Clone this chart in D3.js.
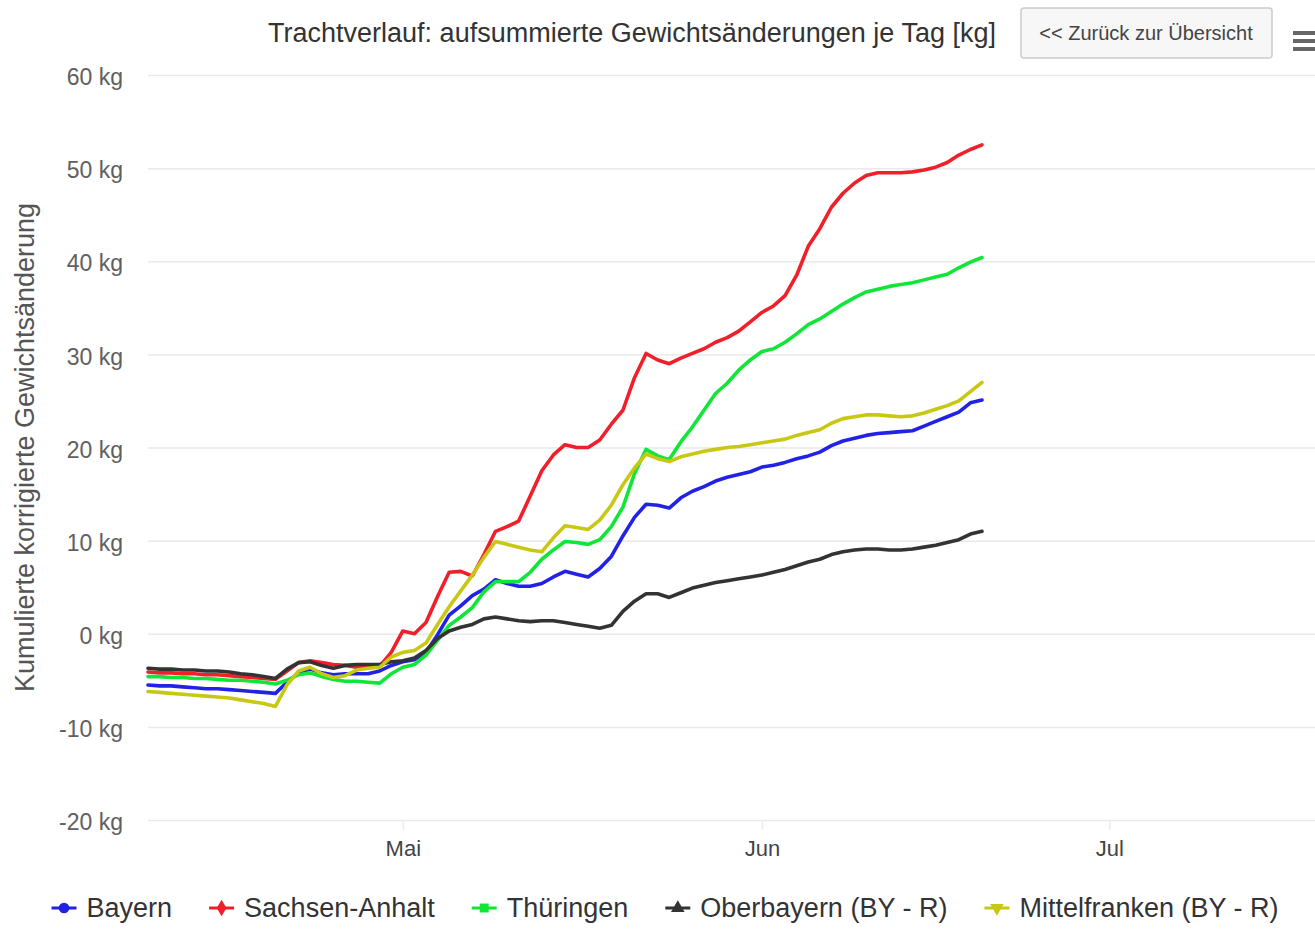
<!DOCTYPE html>
<html>
<head>
<meta charset="utf-8">
<script src="https://cdn.jsdelivr.net/npm/d3@7"></script>
<style>
  body { margin: 0; background: #fff; }
  svg { display: block; font-family: "Liberation Sans", Arial, sans-serif; }
</style>
</head>
<body>
<script>
// daily values, 9 Apr - 20 Jun
let firstDay = new Date(2018, 3, 9);
let lastDay = new Date(2018, 5, 20);

let bayern = [-5.5,-5.6,-5.6,-5.7,-5.8,-5.9,-5.9,-6.0,-6.1,-6.2,-6.3,-6.4,
  -5.2,-4.2,-3.8,-4.2,-4.4,-4.3,-4.3,-4.3,-4.0,-3.4,
  -3.0,-2.8,-2.0,-0.1,2.0,3.0,4.1,4.8,5.8,5.4,
  5.1,5.1,5.4,6.1,6.7,6.4,6.1,7.0,8.3,10.5,
  12.5,13.9,13.8,13.5,14.6,15.3,15.8,16.4,16.8,17.1,
  17.4,17.9,18.1,18.4,18.8,19.1,19.5,20.2,20.7,21.0,
  21.3,21.5,21.6,21.7,21.8,22.3,22.8,23.3,23.8,24.8,25.1];

let sachsenAnhalt = [-4.1,-4.2,-4.2,-4.3,-4.3,-4.4,-4.4,-4.5,-4.6,-4.7,-4.8,-4.9,
  -4.0,-3.1,-2.9,-3.1,-3.3,-3.4,-3.6,-3.6,-3.5,-2.0,
  0.3,0.0,1.2,4.0,6.6,6.7,6.2,8.5,11.0,11.5,
  12.1,14.8,17.5,19.2,20.3,20.0,20.0,20.8,22.5,24.0,
  27.5,30.1,29.4,29.0,29.6,30.1,30.6,31.3,31.8,32.5,
  33.5,34.5,35.2,36.3,38.5,41.6,43.5,45.8,47.3,48.4,
  49.2,49.5,49.5,49.5,49.6,49.8,50.1,50.6,51.4,52.0,52.5];

let thueringen = [-4.6,-4.6,-4.7,-4.7,-4.8,-4.8,-4.9,-5.0,-5.0,-5.1,-5.2,-5.4,
  -5.0,-4.4,-4.2,-4.6,-4.9,-5.1,-5.1,-5.2,-5.3,-4.3,
  -3.6,-3.3,-2.3,-0.7,0.9,1.8,2.8,4.5,5.6,5.6,
  5.6,6.6,8.0,9.0,9.9,9.8,9.6,10.1,11.5,13.6,
  17.2,19.8,19.1,18.7,20.6,22.2,24.0,25.8,26.9,28.3,
  29.4,30.3,30.6,31.3,32.2,33.2,33.8,34.6,35.4,36.1,
  36.7,37.0,37.3,37.5,37.7,38.0,38.3,38.6,39.3,39.9,40.4];

let oberbayern = [-3.7,-3.8,-3.8,-3.9,-3.9,-4.0,-4.0,-4.1,-4.3,-4.4,-4.6,-4.8,
  -3.8,-3.1,-3.0,-3.4,-3.7,-3.4,-3.3,-3.3,-3.3,-3.0,
  -2.9,-2.6,-1.8,-0.5,0.3,0.7,1.0,1.6,1.8,1.6,
  1.4,1.3,1.4,1.4,1.2,1.0,0.8,0.6,0.9,2.4,
  3.5,4.3,4.3,3.9,4.4,4.9,5.2,5.5,5.7,5.9,
  6.1,6.3,6.6,6.9,7.3,7.7,8.0,8.5,8.8,9.0,
  9.1,9.1,9.0,9.0,9.1,9.3,9.5,9.8,10.1,10.7,11.0];

let mittelfranken = [-6.2,-6.3,-6.4,-6.5,-6.6,-6.7,-6.8,-6.9,-7.1,-7.3,-7.5,-7.8,
  -5.5,-4.0,-3.6,-4.3,-4.7,-4.5,-3.9,-3.7,-3.6,-2.5,
  -2.0,-1.8,-1.0,1.0,2.9,4.6,6.3,8.2,9.9,9.6,
  9.3,9.0,8.8,10.3,11.6,11.4,11.2,12.2,13.8,16.0,
  17.8,19.3,18.8,18.5,19.0,19.3,19.6,19.8,20.0,20.1,
  20.3,20.5,20.7,20.9,21.3,21.6,21.9,22.6,23.1,23.3,
  23.5,23.5,23.4,23.3,23.4,23.7,24.1,24.5,25.0,26.0,27.0];

let seriesNames = ['Bayern', 'Sachsen-Anhalt', 'Thüringen', 'Oberbayern (BY - R)', 'Mittelfranken (BY - R)'];
let seriesColors = ['#2222e6', '#f01f2a', '#10e636', '#333333', '#c8c814'];
let seriesSymbols = [d3.symbolCircle, d3.symbolDiamond, d3.symbolSquare, d3.symbolTriangle, d3.symbolTriangle];
let seriesValues = [bayern, sachsenAnhalt, thueringen, oberbayern, mittelfranken];

let yTicks = [-20, -10, 0, 10, 20, 30, 40, 50, 60];
let monthTicks = [new Date(2018, 4, 1), new Date(2018, 5, 1), new Date(2018, 6, 1)];
let monthLabels = ['Mai', 'Jun', 'Jul'];

let titleText = 'Trachtverlauf: aufsummierte Gewichtsänderungen je Tag [kg]';
let yTitle = 'Kumulierte korrigierte Gewichtsänderung';
let buttonText = '<< Zurück zur Übersicht';

let W = 1315, H = 930;
let plot = { left: 148, right: 1315, top: 75, bottom: 820 };

let days = d3.timeDay.range(firstDay, d3.timeDay.offset(lastDay, 1));

let svg = d3.select('body').append('svg')
    .attr('width', W)
    .attr('height', H);

let x = d3.scaleTime()
    .domain([firstDay, new Date(2018, 6, 18, 18)])
    .range([plot.left, plot.right]);

let y = d3.scaleLinear()
    .domain([-20, 60])
    .range([plot.bottom, plot.top]);

// grid lines + y labels
let yAxis = d3.axisLeft(y)
    .tickValues(yTicks)
    .tickSize(-(plot.right - plot.left))
    .tickPadding(25)
    .tickFormat(function(d){ return d + ' kg'; });

svg.append('g')
    .attr('class', 'y axis')
    .attr('transform', 'translate(' + plot.left + ',0)')
    .call(yAxis)
    .call(function(g){
      g.select('.domain').remove();
      g.selectAll('line').attr('stroke', '#e9e9e9').attr('stroke-width', 1.5);
      g.selectAll('text')
        .attr('fill', '#606060')
        .attr('dy', '0.42em')
        .style('font-size', '23px')
        .style('font-family', '"Liberation Sans", Arial, sans-serif');
    });

// x axis
let xAxis = d3.axisBottom(x)
    .tickValues(monthTicks)
    .tickSize(10)
    .tickPadding(10)
    .tickFormat(function(d, i){ return monthLabels[i]; });

svg.append('g')
    .attr('class', 'x axis')
    .attr('transform', 'translate(0,' + plot.bottom + ')')
    .call(xAxis)
    .call(function(g){
      g.select('.domain').remove();
      g.selectAll('line').attr('stroke', '#ececec').attr('stroke-width', 1.5);
      g.selectAll('text')
        .attr('fill', '#444')
        .style('font-size', '22px')
        .style('font-family', '"Liberation Sans", Arial, sans-serif');
    });

// y title
svg.append('text')
    .attr('transform', 'translate(34,' + ((plot.top + plot.bottom) / 2) + ') rotate(-90)')
    .attr('text-anchor', 'middle')
    .attr('fill', '#555')
    .style('font-size', '27px')
    .text(yTitle);

// lines
let line = d3.line()
    .x(function(d, i){ return x(days[i]); })
    .y(function(d){ return y(d); });

svg.append('g').selectAll('path')
    .data(seriesValues)
  .enter().append('path')
    .attr('fill', 'none')
    .attr('stroke', function(d, i){ return seriesColors[i]; })
    .attr('stroke-width', 3.6)
    .attr('stroke-linejoin', 'round')
    .attr('stroke-linecap', 'round')
    .attr('d', line);

// title
svg.append('text')
    .attr('x', 632)
    .attr('y', 42)
    .attr('text-anchor', 'middle')
    .attr('fill', '#333')
    .style('font-size', '27px')
    .text(titleText);

// back button
let btn = svg.append('g').attr('transform', 'translate(1021,8)');
btn.append('rect')
    .attr('width', 251)
    .attr('height', 50)
    .attr('rx', 3)
    .attr('fill', '#f7f7f7')
    .attr('stroke', '#cccccc')
    .attr('stroke-width', 1.5);
btn.append('text')
    .attr('x', 125)
    .attr('y', 32)
    .attr('text-anchor', 'middle')
    .attr('fill', '#444')
    .style('font-size', '20px')
    .text(buttonText);

// menu icon
svg.append('g').selectAll('rect')
    .data([0, 1, 2])
  .enter().append('rect')
    .attr('x', 1293)
    .attr('y', function(d){ return 31 + d * 8; })
    .attr('width', 26)
    .attr('height', 4)
    .attr('fill', '#666');

// legend
let legend = svg.append('g');
let items = legend.selectAll('g')
    .data(seriesNames)
  .enter().append('g');

items.append('line')
    .attr('x1', 0).attr('x2', 25)
    .attr('y1', 0).attr('y2', 0)
    .attr('stroke', function(d, i){ return seriesColors[i]; })
    .attr('stroke-width', 3);

items.append('path')
    .attr('transform', function(d, i){ return 'translate(12.5,0)' + (i == 4 ? ' rotate(180)' : ''); })
    .attr('d', function(d, i){ return d3.symbol().type(seriesSymbols[i]).size(i == 0 ? 90 : 80)(); })
    .attr('fill', function(d, i){ return seriesColors[i]; });

items.append('text')
    .attr('x', 35)
    .attr('y', 9)
    .attr('fill', '#333')
    .style('font-size', '27px')
    .text(function(d){ return d; });

let pos = 0;
let offsets = [];
items.each(function(){
  offsets.push(pos);
  pos += 35 + d3.select(this).select('text').node().getComputedTextLength() + 37;
});
let total = pos - 37;
let start = 665 - total / 2;
items.attr('transform', function(d, i){ return 'translate(' + (start + offsets[i]) + ',908)'; });
</script>
</body>
</html>
